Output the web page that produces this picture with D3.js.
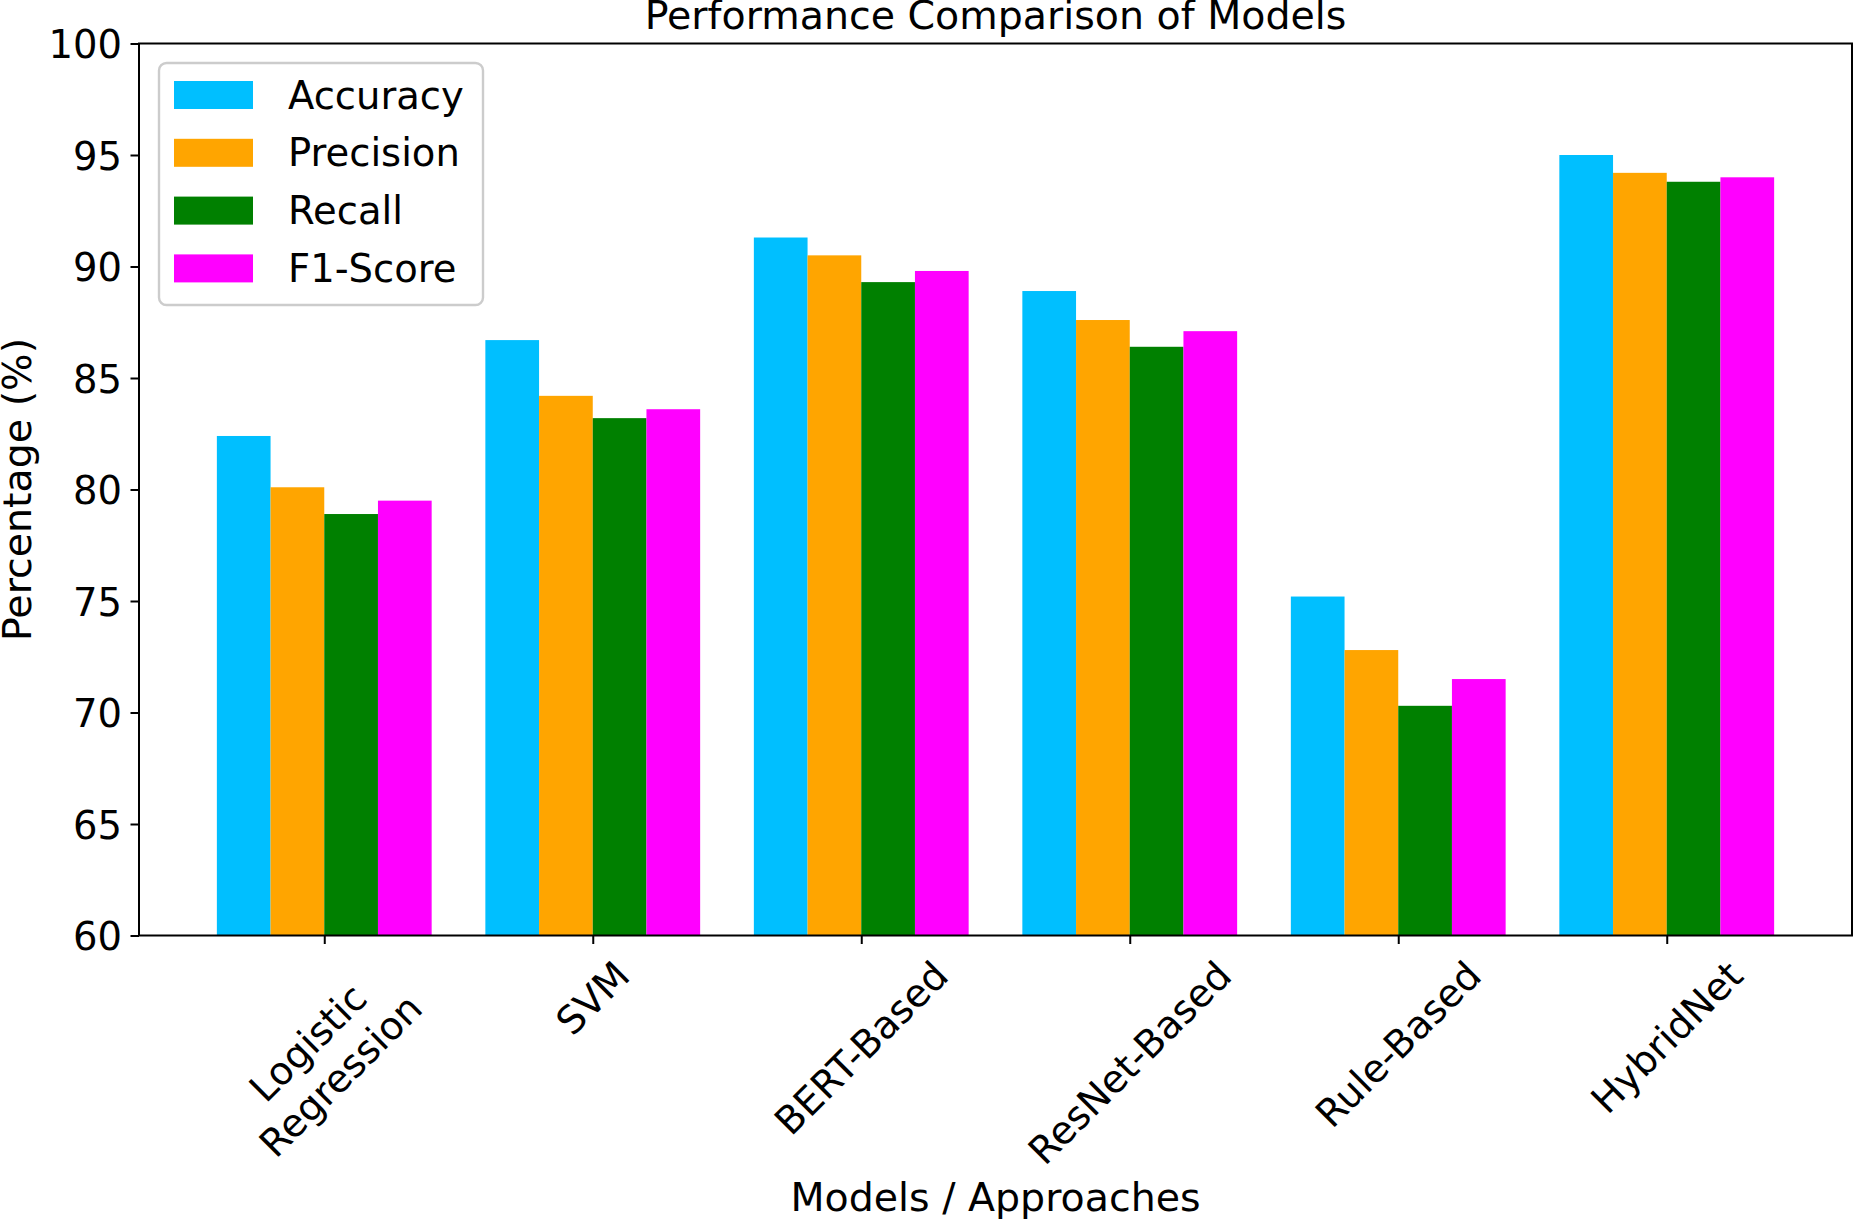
<!DOCTYPE html>
<html>
<head>
<meta charset="utf-8">
<script src="https://cdn.jsdelivr.net/npm/d3@7"></script>
<style>
  body { margin: 0; background: #fff; }
  text { font-family: "DejaVu Sans", sans-serif; fill: #000; }
</style>
</head>
<body>
<script>
const models = ["Logistic\nRegression", "SVM", "BERT-Based", "ResNet-Based", "Rule-Based", "HybridNet"];
const metrics = ["Accuracy", "Precision", "Recall", "F1-Score"];
const accuracy = [82.4, 86.7, 91.3, 88.9, 75.2, 95.0];
const precision = [80.1, 84.2, 90.5, 87.6, 72.8, 94.2];
const recall = [78.9, 83.2, 89.3, 86.4, 70.3, 93.8];
const f1Score = [79.5, 83.6, 89.8, 87.1, 71.5, 94.0];
const yTicks = [60, 65, 70, 75, 80, 85, 90, 95, 100];
const colors = ["#00bfff", "#ffa500", "#008000", "#ff00ff"];

const WIDTH = 1855;
const HEIGHT = 1219;
const PLOT = { left: 139, right: 1852, top: 43.5, bottom: 935.5 };
const BAR_W = 0.2;
const TICK_LEN = 8.5;
const TICK_PAD = 8.5;
const TICK_FONT = "38.5px";
const LABEL_FONT = "39.5px";

const series = [accuracy, precision, recall, f1Score];

const xScale = d3.scaleLinear()
    .domain([-0.69, models.length - 1 + 0.69])
    .range([PLOT.left, PLOT.right]);
const yScale = d3.scaleLinear()
    .domain([60, 100])
    .range([PLOT.bottom, PLOT.top]);

const svg = d3.select("body").append("svg")
    .attr("width", WIDTH)
    .attr("height", HEIGHT)
    .attr("viewBox", [0, 0, WIDTH, HEIGHT]);

// Bars
series.forEach(function(vals, j) {
    svg.append("g")
        .selectAll("rect")
        .data(vals)
        .join("rect")
        .attr("x", (d, i) => xScale(i + (j - 2) * BAR_W))
        .attr("width", xScale(BAR_W) - xScale(0))
        .attr("y", d => yScale(d))
        .attr("height", d => yScale(60) - yScale(d))
        .style("fill", colors[j]);
});

// Y axis
const yAxis = svg.append("g")
    .attr("transform", `translate(${PLOT.left},0)`)
    .call(d3.axisLeft(yScale).tickValues(yTicks).tickSize(TICK_LEN).tickPadding(TICK_PAD));
yAxis.select(".domain").remove();
yAxis.selectAll(".tick line").style("stroke", "#000").style("stroke-width", 2);
yAxis.selectAll(".tick text")
    .attr("dy", "0.364em")
    .style("font-family", "DejaVu Sans")
    .style("font-size", TICK_FONT);

// X axis ticks
const xAxis = svg.append("g")
    .attr("transform", `translate(0,${PLOT.bottom})`)
    .call(d3.axisBottom(xScale).tickValues(d3.range(models.length)).tickSize(TICK_LEN).tickFormat(""));
xAxis.select(".domain").remove();
xAxis.selectAll(".tick line").style("stroke", "#000").style("stroke-width", 2);

// Rotated x tick labels (centred on tick, top aligned below it)
models.forEach(function(name, i) {
    const g = svg.append("g");
    const t = g.append("text")
        .attr("text-anchor", "middle")
        .attr("transform", "rotate(-45)")
        .style("font-size", TICK_FONT);
    name.split("\n").forEach(function(line, k) {
        t.append("tspan")
            .attr("x", 0)
            .attr("dy", k === 0 ? 0 : "1.2em")
            .text(line);
    });
    const b = t.node().getBBox();
    const a = -Math.PI / 4;
    const corners = [[b.x, b.y], [b.x + b.width, b.y], [b.x, b.y + b.height], [b.x + b.width, b.y + b.height]]
        .map(p => [p[0] * Math.cos(a) - p[1] * Math.sin(a), p[0] * Math.sin(a) + p[1] * Math.cos(a)]);
    const minX = d3.min(corners, c => c[0]);
    const maxX = d3.max(corners, c => c[0]);
    const minY = d3.min(corners, c => c[1]);
    const tx = xScale(i) - (minX + maxX) / 2;
    const ty = PLOT.bottom + TICK_LEN + TICK_PAD - minY;
    g.attr("transform", `translate(${tx},${ty})`);
});

// Frame
svg.append("rect")
    .attr("x", PLOT.left)
    .attr("y", PLOT.top)
    .attr("width", PLOT.right - PLOT.left)
    .attr("height", PLOT.bottom - PLOT.top)
    .style("fill", "none")
    .style("stroke", "#000")
    .style("stroke-width", 2);

// Title
svg.append("text")
    .text("Performance Comparison of Models")
    .attr("x", (PLOT.left + PLOT.right) / 2)
    .attr("y", 29)
    .attr("text-anchor", "middle")
    .style("font-size", LABEL_FONT);

// Axis labels
svg.append("text")
    .text("Models / Approaches")
    .attr("x", (PLOT.left + PLOT.right) / 2)
    .attr("y", 1211)
    .attr("text-anchor", "middle")
    .style("font-size", LABEL_FONT);

svg.append("text")
    .text("Percentage (%)")
    .attr("transform", "rotate(-90)")
    .attr("x", -(PLOT.top + PLOT.bottom) / 2)
    .attr("y", 30.7)
    .attr("text-anchor", "middle")
    .style("font-size", LABEL_FONT);

// Legend
const legend = svg.append("g");
legend.append("rect")
    .attr("x", 159)
    .attr("y", 63)
    .attr("width", 324)
    .attr("height", 242)
    .attr("rx", 7.5)
    .style("fill", "#fff")
    .style("fill-opacity", 0.8)
    .style("stroke", "#cccccc")
    .style("stroke-width", 2.4);

const rowY = d3.scaleLinear().domain([0, 1]).range([95, 152.8]);
metrics.forEach(function(m, j) {
    legend.append("rect")
        .attr("x", 174)
        .attr("y", rowY(j) - 14)
        .attr("width", 79)
        .attr("height", 28)
        .style("fill", colors[j]);
    legend.append("text")
        .text(m)
        .attr("x", 288)
        .attr("y", rowY(j) + 13.5)
        .style("font-size", "38.5px");
});
</script>
</body>
</html>
